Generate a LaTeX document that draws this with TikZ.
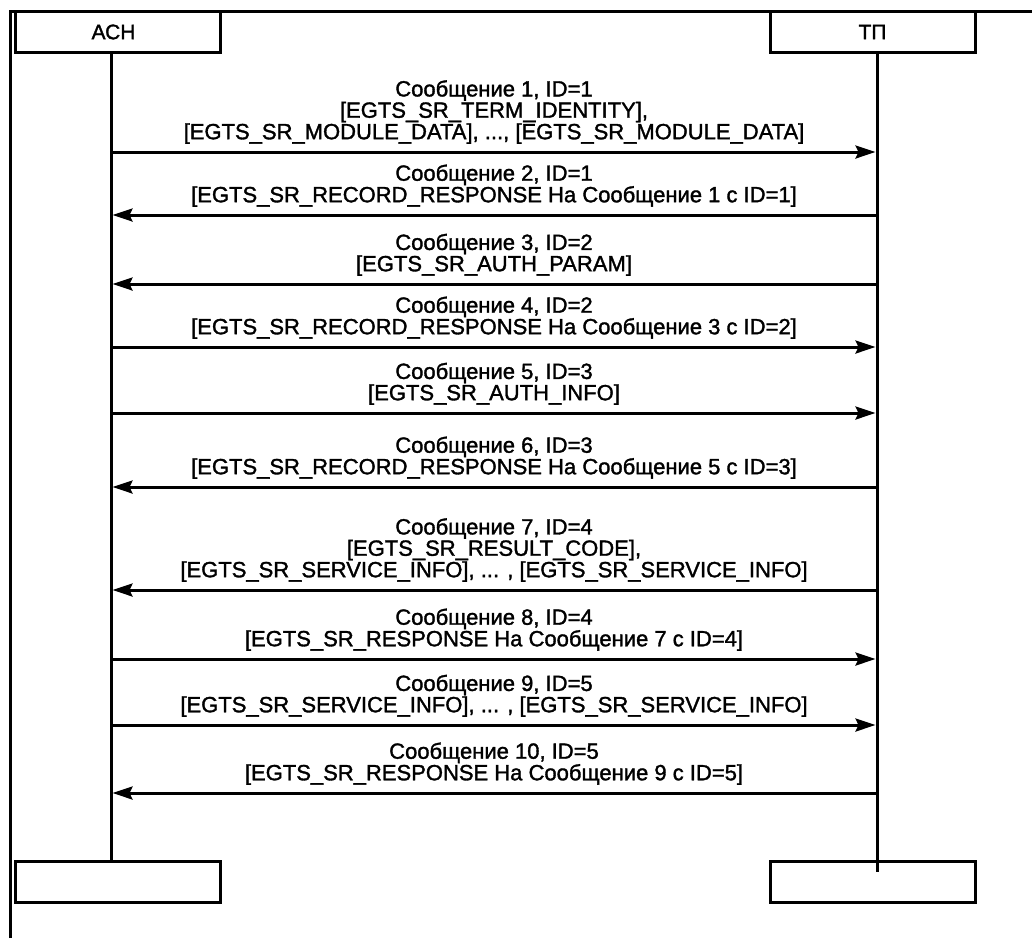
\documentclass[tikz,border=0pt]{standalone}
\usepackage{fontspec}
\setmainfont{Liberation Sans}
\newfontfamily\lblfont{Liberation Sans}[FakeBold=1.5]
\usetikzlibrary{arrows.meta}
\begin{document}
\begin{tikzpicture}[x=1pt,y=-1pt,
  frame/.style={line width=3pt},
  actor/.style={draw, line width=3pt, minimum width=205pt, minimum height=41pt, inner sep=0pt, font=\lblfont\fontsize{21}{20}\selectfont},
  life/.style={line width=3pt},
  msg/.style={line width=3pt, -{Stealth[length=20pt,width=13pt,inset=3pt]}},
  lbl/.style={align=center, inner sep=0pt, anchor=south, font=\lblfont\fontsize{22}{19.6}\selectfont}]
\useasboundingbox (0,0) rectangle (1032,938);
% frame
\draw[frame] (10,938) -- (10,11) -- (1032,11);
% actors
\node[actor] (A) at (117.5,32) {\hspace*{-8pt}АСН};
\node[actor] (T) at (872.5,32) {ТП};
\node[actor] (Ab) at (117.5,881.5) {};
\node[actor] (Tb) at (872.5,881.5) {};
% lifelines
\coordinate (Lt) at (111,53.5);
\coordinate (Lb) at (111,862);
\coordinate (Rt) at (877,53.5);
\coordinate (Rb) at (877,872);
\draw[life] (Lt) -- (Lb);
\draw[life] (Rt) -- (Rb);
% message end points
\foreach \i/\y in {1/152,2/215,3/284,4/347,5/413,6/487,7/590,8/659,9/725,10/793}{
  \coordinate (L\i) at (112.5,\y);
  \coordinate (R\i) at (875.5,\y);
  \coordinate (M\i) at (494,\y-8);
}
% messages
\draw[msg] (L1) -- (R1);
\node[lbl] (t1) at (M1) {Сообщение 1, ID=1\\{[}EGTS\_SR\_TERM\_IDENTITY],\\{[}EGTS\_SR\_MODULE\_DATA], ..., [EGTS\_SR\_MODULE\_DATA]};
\draw[msg] (R2) -- (L2);
\node[lbl] (t2) at (M2) {Сообщение 2, ID=1\\{[}EGTS\_SR\_RECORD\_RESPONSE На Сообщение 1 с ID=1]};
\draw[msg] (R3) -- (L3);
\node[lbl] (t3) at (M3) {Сообщение 3, ID=2\\{[}EGTS\_SR\_AUTH\_PARAM]};
\draw[msg] (L4) -- (R4);
\node[lbl] (t4) at (M4) {Сообщение 4, ID=2\\{[}EGTS\_SR\_RECORD\_RESPONSE На Сообщение 3 с ID=2]};
\draw[msg] (L5) -- (R5);
\node[lbl] (t5) at (M5) {Сообщение 5, ID=3\\{[}EGTS\_SR\_AUTH\_INFO]};
\draw[msg] (R6) -- (L6);
\node[lbl] (t6) at (M6) {Сообщение 6, ID=3\\{[}EGTS\_SR\_RECORD\_RESPONSE На Сообщение 5 с ID=3]};
\draw[msg] (R7) -- (L7);
\node[lbl] (t7) at (M7) {Сообщение 7, ID=4\\{[}EGTS\_SR\_RESULT\_CODE],\\{[}EGTS\_SR\_SERVICE\_INFO], ... , [EGTS\_SR\_SERVICE\_INFO]};
\draw[msg] (L8) -- (R8);
\node[lbl] (t8) at (M8) {Сообщение 8, ID=4\\{[}EGTS\_SR\_RESPONSE На Сообщение 7 с ID=4]};
\draw[msg] (L9) -- (R9);
\node[lbl] (t9) at (M9) {Сообщение 9, ID=5\\{[}EGTS\_SR\_SERVICE\_INFO], ... , [EGTS\_SR\_SERVICE\_INFO]};
\draw[msg] (R10) -- (L10);
\node[lbl] (t10) at (M10) {Сообщение 10, ID=5\\{[}EGTS\_SR\_RESPONSE На Сообщение 9 с ID=5]};
\end{tikzpicture}
\end{document}
